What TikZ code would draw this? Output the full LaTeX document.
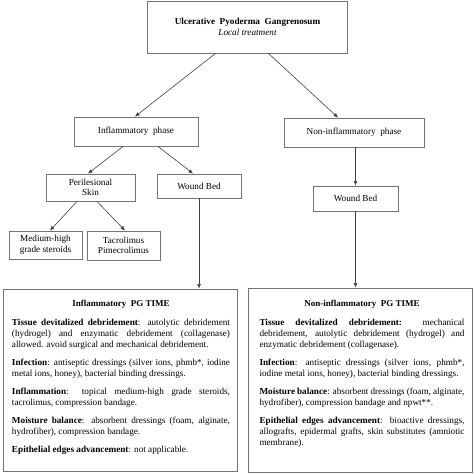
\documentclass[tikz,border=0pt]{standalone}
\usepackage{fontspec}
\setmainfont{Liberation Serif}
\usetikzlibrary{arrows.meta,shadows}
\begin{document}
\begin{tikzpicture}[x=1pt,y=-1pt,
  box/.style={draw=black!55, line width=0.9pt, fill=white, inner sep=1pt, align=center,
     drop shadow={shadow xshift=0.8pt, shadow yshift=-0.8pt, fill=black!45, opacity=1},
     font=\fontsize{9.2}{10.5}\selectfont},
  bigbox/.style={draw=black!55, line width=0.9pt, fill=white, inner sep=0pt,
     drop shadow={shadow xshift=0.8pt, shadow yshift=-0.8pt, fill=black!45, opacity=1}},
  body/.style={anchor=north, inner sep=0pt, font=\fontsize{9.2}{11}\selectfont},
  arr/.style={draw=black!75, line width=0.6pt, -{Latex[length=4.5pt,width=4pt]}}
]
\useasboundingbox (0,0) rectangle (474,474);

\node[box, minimum width=200pt, minimum height=52pt] (top) at (247.5,27)
  {{\bfseries Ulcerative\ \ Pyoderma\ \ Gangrenosum}\\ \itshape Local treatment};
\node[box, minimum width=124pt, minimum height=29pt] (infl) at (136,131.5) {Inflammatory\ \ phase};
\node[box, minimum width=140pt, minimum height=29pt] (noninfl) at (354,132.5) {Non-inflammatory\ \ phase};
\node[box, minimum width=89pt, minimum height=27pt] (peri) at (90.5,187.5) {Perilesional\\Skin};
\node[box, minimum width=84pt, minimum height=24pt] (wbl) at (199,186) {Wound Bed};
\node[box, minimum width=85pt, minimum height=25pt] (wbr) at (355.5,198.5) {Wound Bed};
\node[box, minimum width=73pt, minimum height=28pt] (med) at (45.5,245) {Medium-high\\grade steroids};
\node[box, minimum width=73pt, minimum height=29pt] (tac) at (123.5,245.5) {Tacrolimus\\Pimecrolimus};

\node[bigbox, minimum width=234pt, minimum height=182pt] (boxl) at (120,380) {};
\node[bigbox, minimum width=224pt, minimum height=184pt] (boxr) at (360,380) {};

\node[body] (textl) at (121,300) {\begin{minipage}[t]{218pt}\hyphenpenalty=10000
  {\centering\fontsize{9}{11}\selectfont\bfseries Inflammatory\ \ PG TIME\par}\vspace{8pt}
  \textbf{Tissue devitalized debridement}: autolytic debridement\linebreak
  (hydrogel) and enzymatic debridement (collagenase)\linebreak
  allowed. avoid surgical and mechanical debridement.\par\vspace{7pt}
  \textbf{Infection}: antiseptic dressings (silver ions, phmb*, iodine\linebreak
  metal ions, honey), bacterial binding dressings.\par\vspace{7pt}
  \textbf{Inflammation}: topical medium-high grade steroids,\linebreak
  tacrolimus, compression bandage.\par\vspace{7pt}
  \textbf{Moisture balance}: absorbent dressings (foam, alginate,\linebreak
  hydrofiber), compression bandage.\par\vspace{7pt}
  \textbf{Epithelial edges advancement}: not applicable.\par
  \end{minipage}};

\node[body] (textr) at (362,300) {\begin{minipage}[t]{205pt}\hyphenpenalty=10000
  {\centering\fontsize{9}{11}\selectfont\bfseries Non-inflammatory\ \ PG TIME\par}\vspace{8pt}
  \textbf{Tissue devitalized debridement:} mechanical\linebreak
  debridement, autolytic debridement (hydrogel) and\linebreak
  enzymatic debridement (collagenase).\par\vspace{7pt}
  \textbf{Infection}: antiseptic dressings (silver ions, phmb*,\linebreak
  iodine metal ions, honey), bacterial binding dressings.\par\vspace{7pt}
  \textbf{Moisture balance}: absorbent dressings (foam, alginate,\linebreak
  hydrofiber), compression bandage and npwt**.\par\vspace{7pt}
  \textbf{Epithelial edges advancement}: bioactive dressings,\linebreak
  allografts, epidermal grafts, skin substitutes (amniotic\linebreak
  membrane).\par
  \end{minipage}};

\draw[arr] ([xshift=-32pt]top.south) -- ([xshift=-1pt]infl.north);
\draw[arr] ([xshift=21pt]top.south) -- ([xshift=-16pt]noninfl.north);
\draw[arr] ([xshift=-13pt]infl.south) -- ([xshift=-2.5pt]peri.north);
\draw[arr] ([xshift=22pt]infl.south) -- ([xshift=-6pt]wbl.north);
\draw[arr] ([xshift=-13.5pt]peri.south) -- ([xshift=4.5pt]med.north);
\draw[arr] ([xshift=6.5pt]peri.south) -- ([xshift=1.5pt]tac.north);
\draw[arr] (wbl.south) -- (wbl.south |- boxl.north);
\draw[arr] ([xshift=1.5pt]noninfl.south) -- ([xshift=1.5pt]noninfl.south |- wbr.north);
\draw[arr] (wbr.south) -- (wbr.south |- boxr.north);
\end{tikzpicture}
\end{document}
